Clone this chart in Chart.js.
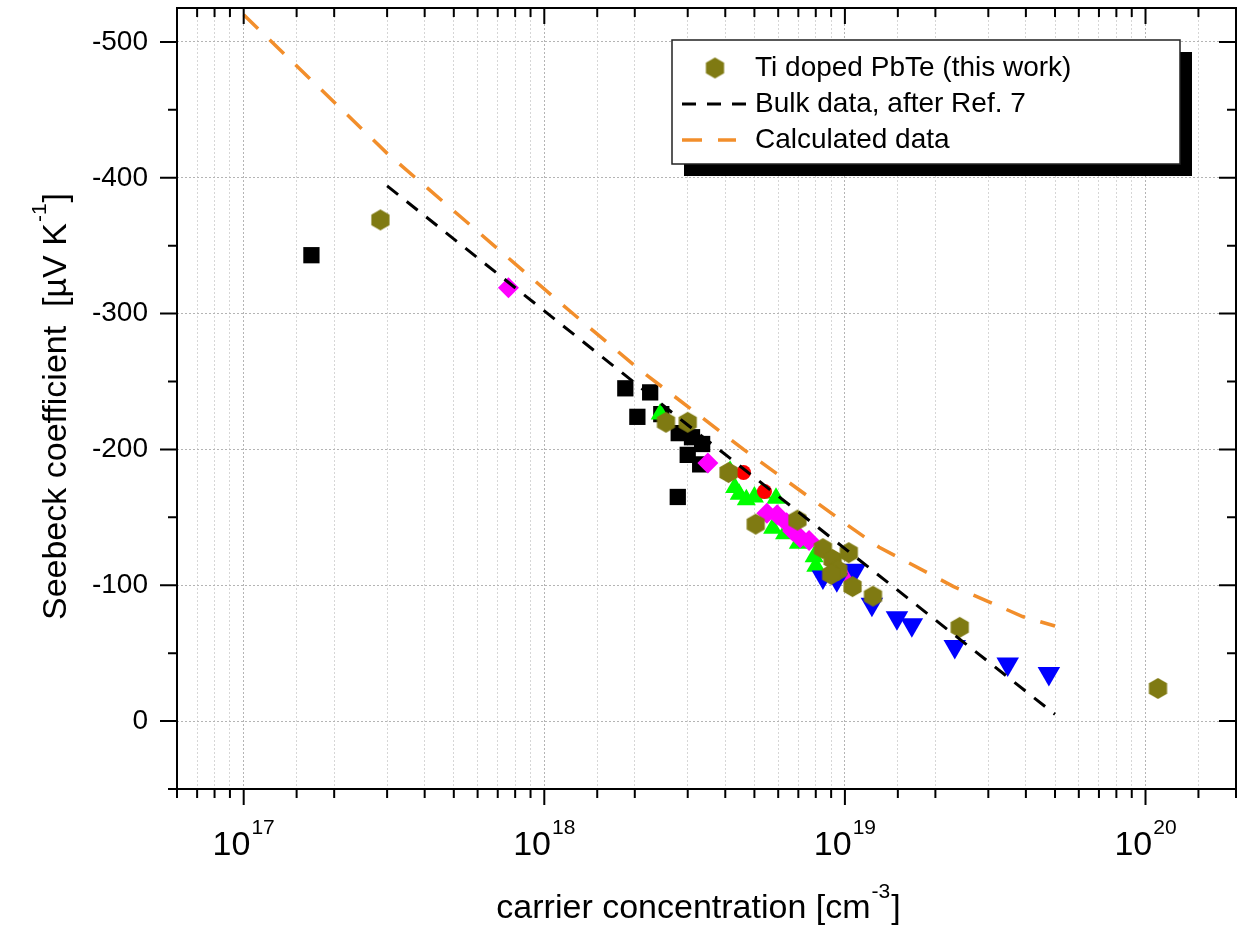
<!DOCTYPE html>
<html>
<head>
<meta charset="utf-8">
<script src="https://cdn.jsdelivr.net/npm/chart.js@4.4.1/dist/chart.umd.min.js"></script>
<style>
  html, body { margin: 0; padding: 0; background: #fff; }
  #wrap { width: 1244px; height: 932px; }
</style>
</head>
<body>
<div id="wrap"><canvas id="chart" width="1244" height="932"></canvas></div>
<script>
const FONT = "'Liberation Sans', Arial, Helvetica, sans-serif";

// ---- data (n in cm^-3, S in µV/K) ----
// Ti doped PbTe (this work)
const tiN = [2.85e17, 2.54e18, 3.0e18, 4.1e18, 5.05e18, 6.95e18, 8.45e18, 9.1e18, 1.03e19, 9.5e18, 9.0e18, 1.06e19, 1.24e19, 2.41e19, 1.1e20];
const tiS = [-369, -220, -220, -183, -145, -148, -127, -119, -124, -111, -108, -99, -92, -69, -24];

// other literature points (no legend entry)
const sqN = [1.68e17, 1.86e18, 2.25e18, 2.04e18, 2.45e18, 2.8e18, 3.1e18, 3.35e18, 3.0e18, 3.3e18, 2.78e18];
const sqS = [-343, -245, -242, -224, -226, -212, -209, -204, -196, -189, -165];

const diaN = [7.6e17, 3.5e18, 5.5e18, 5.95e18, 6.4e18, 6.7e18, 7.1e18, 7.6e18, 1.02e19];
const diaS = [-319, -190, -153, -152, -146, -140, -135, -133, -108];

const triN = [2.43e18, 4.15e18, 4.3e18, 4.45e18, 4.7e18, 5.0e18, 5.3e18, 5.9e18, 5.75e18, 6.3e18, 7.0e18, 7.9e18, 8.0e18];
const triS = [-226, -184, -172, -167, -163, -165, -168, -164, -142, -138, -131, -121, -114];

const dotN = [4.6e18, 5.4e18];
const dotS = [-183, -169];

const downN = [8.45e18, 9.4e18, 1.08e19, 1.23e19, 1.49e19, 1.67e19, 2.32e19, 3.48e19, 4.77e19];
const downS = [-106, -104, -111, -86, -76, -71, -55, -42, -35];

// Bulk data, after Ref. 7
const bulkN = [3e17, 1e18, 3e18, 1e19, 5e19];
const bulkS = [-394, -302, -218, -127, -5];

// Calculated data
const calcN = [1e17, 3e17, 1.2e18, 2.04e18, 4.6e18, 1.04e19, 1.3e19, 2.3e19, 3.0e19, 3.9e19, 5e19];
const calcS = [-520, -418, -303, -260, -200, -143, -128, -99, -88, -77, -70];

const xPowers = [17, 18, 19, 20];
const yLabels = [-500, -400, -300, -200, -100, 0];

const pts = (n, s) => n.map((v, i) => ({ x: v, y: s[i] }));

// hexagon marker
function hexagon(r, color) {
  const c = document.createElement('canvas');
  const size = Math.ceil(r * 2 + 2);
  c.width = size; c.height = size;
  const g = c.getContext('2d');
  g.fillStyle = color;
  g.beginPath();
  for (let k = 0; k < 6; k++) {
    const a = Math.PI / 2 + k * Math.PI / 3;
    const px = size / 2 + r * Math.cos(a), py = size / 2 + r * Math.sin(a);
    k ? g.lineTo(px, py) : g.moveTo(px, py);
  }
  g.closePath();
  g.fill();
  return c;
}
const OLIVE = '#7f7a12';
const hexImg = hexagon(10.5, OLIVE);

// ---- frame, tick marks, x labels, titles, legend ----
const decorPlugin = {
  id: 'decor',
  afterDatasetsDraw(chart) {
    const { ctx, chartArea: a, scales: { x, y } } = chart;
    ctx.save();
    ctx.strokeStyle = '#000';
    ctx.lineWidth = 2;
    ctx.strokeRect(a.left, a.top, a.right - a.left, a.bottom - a.top);

    ctx.beginPath();
    // x ticks: bottom outward, top inward
    x.ticks.forEach(t => {
      const px = x.getPixelForValue(t.value);
      if (px < a.left - 1 || px > a.right + 1) return;
      const len = isMajor(t.value) ? 16 : 9;
      ctx.moveTo(px, a.bottom); ctx.lineTo(px, a.bottom + len);
      ctx.moveTo(px, a.top); ctx.lineTo(px, a.top + len);
    });
    // y ticks: left outward, right inward
    for (let v = -500; v <= 50; v += 50) {
      const py = y.getPixelForValue(v);
      const len = v % 100 === 0 ? 17 : 9;
      ctx.moveTo(a.left, py); ctx.lineTo(a.left - len, py);
      ctx.moveTo(a.right, py); ctx.lineTo(a.right - len, py);
    }
    ctx.stroke();

    // x tick labels 10^n
    ctx.fillStyle = '#000';
    ctx.textBaseline = 'alphabetic';
    ctx.textAlign = 'left';
    xPowers.forEach(p => {
      const px = x.getPixelForValue(Math.pow(10, p));
      ctx.font = '34px ' + FONT;
      const w1 = ctx.measureText('10').width;
      ctx.font = '21px ' + FONT;
      const w2 = ctx.measureText(String(p)).width;
      const x0 = px - (w1 + w2 + 1) / 2;
      ctx.font = '34px ' + FONT;
      ctx.fillText('10', x0, 855);
      ctx.font = '21px ' + FONT;
      ctx.fillText(String(p), x0 + w1 + 1, 834);
    });

    // x title
    const cx = (a.left + a.right) / 2 - 8;
    ctx.font = '34px ' + FONT;
    const tA = 'carrier concentration [cm', tB = '-3', tC = ']';
    const wA = ctx.measureText(tA).width;
    ctx.font = '21px ' + FONT;
    const wB = ctx.measureText(tB).width;
    ctx.font = '34px ' + FONT;
    const wC = ctx.measureText(tC).width;
    let sx = cx - (wA + wB + wC + 2) / 2;
    ctx.fillText(tA, sx, 918);
    ctx.font = '21px ' + FONT;
    ctx.fillText(tB, sx + wA + 1, 898);
    ctx.font = '34px ' + FONT;
    ctx.fillText(tC, sx + wA + wB + 2, 918);

    // y title (rotated)
    ctx.save();
    ctx.translate(66, (a.top + a.bottom) / 2 + 8);
    ctx.rotate(-Math.PI / 2);
    const yA = 'Seebeck coefficient  [\u00b5V K', yB = '-1', yC = ']';
    const ya = ctx.measureText(yA).width;
    ctx.font = '21px ' + FONT;
    const yb = ctx.measureText(yB).width;
    ctx.font = '34px ' + FONT;
    const yc = ctx.measureText(yC).width;
    sx = -(ya + yb + yc + 2) / 2;
    ctx.fillText(yA, sx, 0);
    ctx.font = '21px ' + FONT;
    ctx.fillText(yB, sx + ya + 1, -20);
    ctx.font = '34px ' + FONT;
    ctx.fillText(yC, sx + ya + yb + 2, 0);
    ctx.restore();

    // legend box with shadow
    const L = { l: 672, t: 40, r: 1180, b: 164 };
    ctx.fillStyle = '#000';
    ctx.fillRect(L.l + 12, L.t + 12, L.r - L.l, L.b - L.t);
    ctx.fillStyle = '#fff';
    ctx.fillRect(L.l, L.t, L.r - L.l, L.b - L.t);
    ctx.lineWidth = 1.5;
    ctx.strokeStyle = '#222';
    ctx.strokeRect(L.l, L.t, L.r - L.l, L.b - L.t);

    ctx.drawImage(hexImg, 715 - hexImg.width / 2, 68 - hexImg.height / 2);
    const bulk = chart.data.datasets[0], calc = chart.data.datasets[1];
    ctx.lineWidth = bulk.borderWidth;
    ctx.strokeStyle = bulk.borderColor;
    ctx.setLineDash(bulk.borderDash);
    ctx.beginPath(); ctx.moveTo(682, 104); ctx.lineTo(751, 104); ctx.stroke();
    ctx.lineWidth = calc.borderWidth;
    ctx.strokeStyle = calc.borderColor;
    ctx.setLineDash(calc.borderDash);
    ctx.beginPath(); ctx.moveTo(682, 140); ctx.lineTo(736, 140); ctx.stroke();
    ctx.setLineDash([]);

    ctx.fillStyle = '#000';
    ctx.font = '28px ' + FONT;
    ctx.textBaseline = 'middle';
    ctx.fillText(chart.data.datasets[7].label, 755, 68);
    ctx.fillText(bulk.label, 755, 104);
    ctx.fillText(calc.label, 755, 140);
    ctx.restore();
  }
};

function isMajor(v) {
  return Math.abs(Math.log10(v) - Math.round(Math.log10(v))) < 1e-6;
}

new Chart(document.getElementById('chart'), {
  type: 'scatter',
  data: {
    datasets: [
      { type: 'line', label: 'Bulk data, after Ref. 7', data: pts(bulkN, bulkS),
        borderColor: '#000', borderWidth: 3, borderDash: [14, 11], pointRadius: 0, fill: false, tension: 0, order: 0 },
      { type: 'line', label: 'Calculated data', data: pts(calcN, calcS),
        borderColor: '#f28e2b', borderWidth: 3.5, borderDash: [20, 16], pointRadius: 0, fill: false, tension: 0, order: 0 },
      { label: 'squares', data: pts(sqN, sqS), pointStyle: 'rect', pointRadius: 11.5, backgroundColor: '#000', borderWidth: 0, order: 7 },
      { label: 'up triangles', data: pts(triN, triS), pointStyle: 'triangle', pointRadius: 11, backgroundColor: '#00ff00', borderWidth: 0, order: 6 },
      { label: 'circles', data: pts(dotN, dotS), pointStyle: 'circle', pointRadius: 7.5, backgroundColor: '#ff0000', borderWidth: 0, order: 5 },
      { label: 'diamonds', data: pts(diaN, diaS), pointStyle: 'rectRot', pointRadius: 10.5, backgroundColor: '#ff00ff', borderWidth: 0, order: 4 },
      { label: 'down triangles', data: pts(downN, downS), pointStyle: 'triangle', rotation: 180, pointRadius: 13, backgroundColor: '#0000ff', borderWidth: 0, order: 3 },
      { label: 'Ti doped PbTe (this work)', data: pts(tiN, tiS), pointStyle: hexImg, pointRadius: 10.5, backgroundColor: OLIVE, borderWidth: 0, order: 1 }
    ]
  },
  options: {
    responsive: false,
    animation: false,
    devicePixelRatio: 1,
    layout: { autoPadding: false, padding: { top: 8, right: 8, left: 0, bottom: 0 } },
    plugins: { legend: { display: false }, tooltip: { enabled: false } },
    scales: {
      x: {
        type: 'logarithmic',
        min: 6e16,
        max: 2e20,
        afterFit: s => { s.height = 143; s.paddingLeft = 0; s.paddingRight = 0; },
        ticks: { display: false },
        grid: {
          drawTicks: false,
          color: c => (c.tick && isMajor(c.tick.value)) ? '#b4b4b4' : '#d6d6d6',
          lineWidth: 1
        },
        border: { display: false, dash: [2, 2] }
      },
      y: {
        type: 'linear',
        min: -525,
        max: 50,
        reverse: true,
        afterFit: s => { s.width = 177; s.paddingTop = 0; s.paddingBottom = 0; },
        ticks: {
          stepSize: 100,
          includeBounds: false,
          padding: 29,
          color: '#000',
          font: { family: FONT, size: 28 },
          callback: v => yLabels.includes(v) ? String(v) : ''
        },
        grid: { drawTicks: false, color: '#b4b4b4', lineWidth: 1 },
        border: { display: false, dash: [2, 2] }
      }
    }
  },
  plugins: [decorPlugin]
});
</script>
</body>
</html>
